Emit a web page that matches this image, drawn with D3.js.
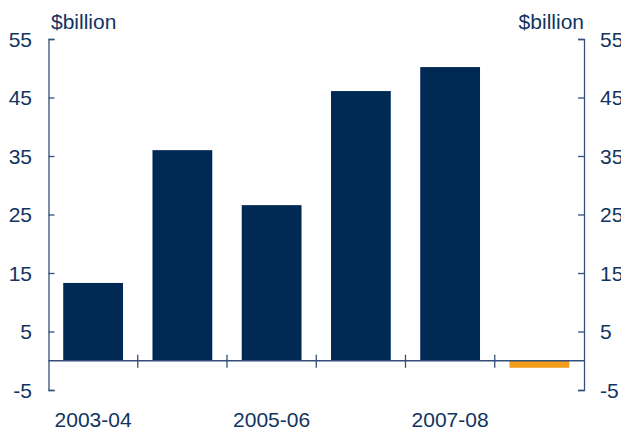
<html>
<script src="https://d3js.org/d3.v7.min.js"></script>
<body style="margin:0;background:#fff">
<svg id="chart" width="621" height="429"></svg>
<script>
// data
var years = ["2003-04", "2004-05", "2005-06", "2006-07", "2007-08", "2008-09"];
var values = [13.3, 36.0, 26.6, 46.1, 50.2, -1.2];
var yTicks = [-5, 5, 15, 25, 35, 45, 55];
var xLabels = ["2003-04", "2005-06", "2007-08"];

var plotLeft = 48.5, plotRight = 584, plotTop = 39, plotBottom = 390;
var navy = "#002a54", orange = "#f39c1c", axisCol = "#34507a", textCol = "#123461";

var svg = d3.select("#chart");

var x = d3.scaleBand().domain(years).range([plotLeft, plotRight]).padding(0);
var y = d3.scaleLinear().domain([-5, 55]).range([plotBottom, plotTop]);
var barW = x.bandwidth() * 0.67;

svg.selectAll(".bar")
    .data(years)
    .enter()
    .append("rect")
    .attr("x", function(d) { return x(d) + (x.bandwidth() - barW) / 2; })
    .attr("width", barW)
    .attr("y", function(d, i) { return y(Math.max(0, values[i])); })
    .attr("height", function(d, i) { return Math.abs(y(values[i]) - y(0)); })
    .attr("fill", function(d, i) { return values[i] < 0 ? orange : navy; });

// left and right axes, ticks pointing inward
svg.append("g")
    .attr("transform", "translate(" + plotLeft + ",0)")
    .call(d3.axisRight(y).tickValues(yTicks).tickSize(6).tickSizeOuter(6).tickFormat(""))
    .call(function(g) { g.selectAll("line,path").attr("stroke", axisCol).attr("stroke-width", 1.3); });

svg.append("g")
    .attr("transform", "translate(" + plotRight + ",0)")
    .call(d3.axisLeft(y).tickValues(yTicks).tickSize(6).tickSizeOuter(6).tickFormat(""))
    .call(function(g) { g.selectAll("line,path").attr("stroke", axisCol).attr("stroke-width", 1.3); });

// tick labels
svg.selectAll(".yl")
    .data(yTicks)
    .enter()
    .append("text")
    .attr("x", 32)
    .attr("y", function(d) { return y(d) + 7.5; })
    .attr("text-anchor", "end")
    .text(function(d) { return d; });

svg.selectAll(".yr")
    .data(yTicks)
    .enter()
    .append("text")
    .attr("x", 600)
    .attr("y", function(d) { return y(d) + 7.5; })
    .text(function(d) { return d; });

// zero line with category ticks crossing it
svg.append("line")
    .attr("x1", plotLeft).attr("x2", plotRight)
    .attr("y1", y(0)).attr("y2", y(0))
    .attr("stroke", axisCol).attr("stroke-width", 1.3);

svg.selectAll(".xt")
    .data(years.slice(1))
    .enter()
    .append("line")
    .attr("x1", function(d) { return x(d); })
    .attr("x2", function(d) { return x(d); })
    .attr("y1", y(0) - 6)
    .attr("y2", y(0) + 7)
    .attr("stroke", axisCol).attr("stroke-width", 1.3);

svg.selectAll(".xl")
    .data(xLabels)
    .enter()
    .append("text")
    .attr("x", function(d) { return x(d) + x.bandwidth() / 2; })
    .attr("y", 427)
    .attr("text-anchor", "middle")
    .text(function(d) { return d; });

svg.append("text").attr("x", 51).attr("y", 29).text("$billion");
svg.append("text").attr("x", plotRight).attr("y", 29).attr("text-anchor", "end").text("$billion");

svg.selectAll("text")
    .style("font-family", "Liberation Sans, Arial, sans-serif")
    .style("font-size", "21px")
    .attr("fill", textCol);
</script>
</body>
</html>
